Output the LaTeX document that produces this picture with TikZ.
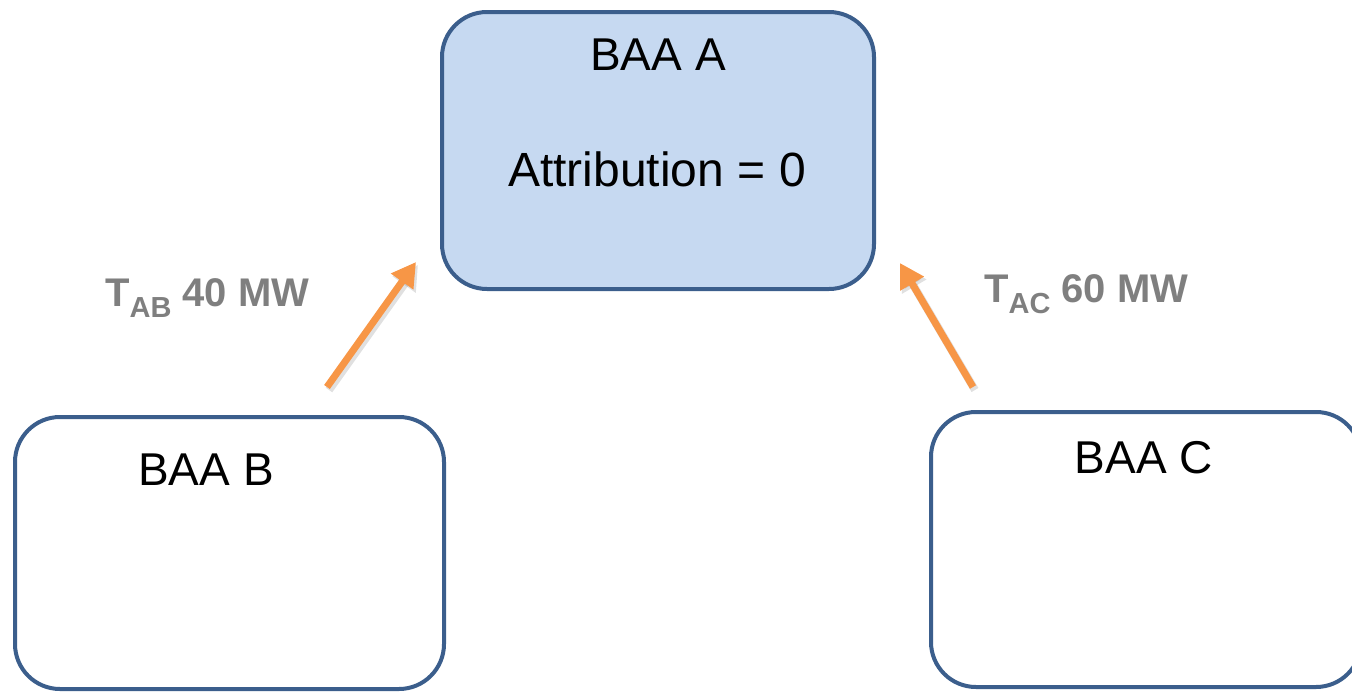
\documentclass[tikz,border=0pt]{standalone}
\usepackage{fontspec}
\setmainfont{Liberation Sans}
\usetikzlibrary{arrows.meta}

\definecolor{boxline}{RGB}{59,94,140}
\definecolor{boxfill}{RGB}{198,217,241}
\definecolor{flow}{RGB}{247,150,70}
\definecolor{labelgray}{RGB}{127,127,127}

\tikzset{
  baabox/.style={draw=boxline, line width=4pt, rounded corners=45pt,
    rectangle, inner sep=0pt, minimum width=#1},
  baatext/.style={anchor=base, inner sep=0pt, font=\fontsize{46}{55}\selectfont},
  tielabel/.style={anchor=base west, inner sep=0pt, text=labelgray,
    font=\bfseries\fontsize{40}{48}\selectfont},
  flowarrow/.style={draw=flow, line width=7pt,
    -{Triangle[length=24pt,width=26pt]}},
  flowshadow/.style={draw=black, opacity=0.12, line width=8pt,
    -{Triangle[length=24pt,width=27pt]}}
}
\newcommand{\subtie}[1]{\raisebox{-11pt}{\fontsize{29}{34}\selectfont #1}}

\begin{document}
\begin{tikzpicture}[x=1pt,y=1pt]
  \useasboundingbox (0,0) rectangle (1352,-691);

  % balancing authority areas
  \node[baabox=432pt, minimum height=277pt, fill=boxfill] (boxA) at (658,-150.5) {};
  \node[baabox=429pt, minimum height=272pt, fill=white] (boxB) at (229.5,-553) {};
  \node[baabox=430pt, minimum height=275pt, fill=white] (boxC) at (1146,-549.5) {};

  \node[baatext] (titleA) at (658,-70) {BAA A};
  \node[baatext, font=\fontsize{48}{57}\selectfont] (attrA) at (657,-186) {Attribution = 0};
  \node[baatext] (titleB) at (206,-485) {BAA B};
  \node[baatext] (titleC) at (1144,-473) {BAA C};

  % tie-line flows into BAA A
  \coordinate (tailB) at (327,-387);
  \coordinate (tipB) at (416,-262);
  \coordinate (tailC) at (973,-387);
  \coordinate (tipC) at (900,-263);
  \coordinate (tailBs) at (329,-390);
  \coordinate (tipBs) at (418,-265);
  \coordinate (tailCs) at (975,-390);
  \coordinate (tipCs) at (902,-266);

  \draw[flowshadow] (tailBs) -- (tipBs);
  \draw[flowshadow] (tailCs) -- (tipCs);
  \draw[flowarrow] (tailB) -- (tipB);
  \draw[flowarrow] (tailC) -- (tipC);

  \node[tielabel] (tieAB) at (105,-306) {T\subtie{AB} 40 MW};
  \node[tielabel] (tieAC) at (984,-302) {T\subtie{AC} 60 MW};
\end{tikzpicture}
\end{document}
